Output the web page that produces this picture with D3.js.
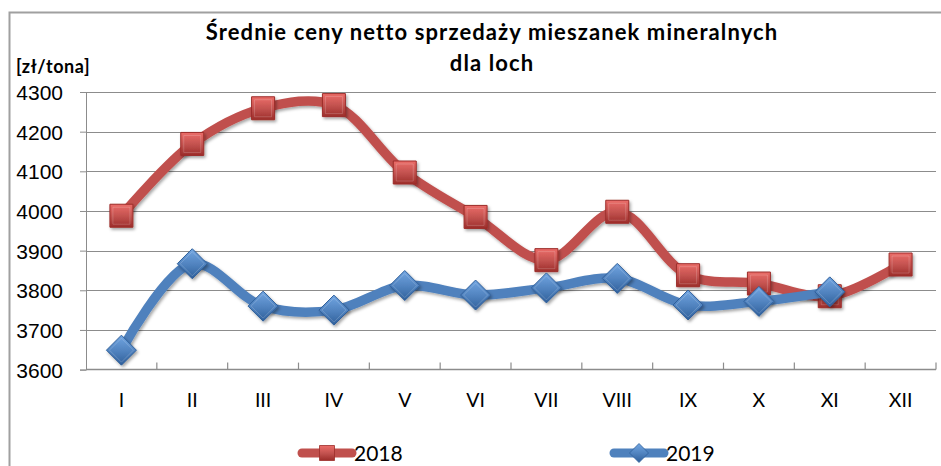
<!DOCTYPE html>
<html>
<head>
<meta charset="utf-8">
<script src="https://cdn.jsdelivr.net/npm/d3@7"></script>
<style>
    body { margin: 0; background: #fff; }
    svg { display: block; font-family: Lato, "Open Sans", sans-serif; }
</style>
</head>
<body>
<div id="chart"></div>
<script>
const months = ['I', 'II', 'III', 'IV', 'V', 'VI', 'VII', 'VIII', 'IX', 'X', 'XI', 'XII'];
const prices2018 = [3988, 4169, 4259, 4267, 4097, 3985, 3876, 3998, 3838, 3817, 3785, 3865];
const prices2019 = [3649, 3867, 3760, 3750, 3812, 3788, 3806, 3830, 3763, 3772, 3796];
const yTicks = [3600, 3700, 3800, 3900, 4000, 4100, 4200, 4300];
const titleLines = ['Średnie ceny netto sprzedaży mieszanek mineralnych', 'dla loch'];
const unitLabel = '[zł/tona]';

const width = 941;
const height = 466;
const plot = { left: 86, right: 936, top: 92, bottom: 369.6 };
const color = {
    red: '#c0504d',
    blue: '#4f81bd',
    grid: '#8c8c8c',
    frame: '#a0a0a0'
};

const series = [
    { name: '2018', values: prices2018, color: color.red, shape: 'square', light: '#ec6d69', dark: '#9c2d2a' },
    { name: '2019', values: prices2019, color: color.blue, shape: 'diamond', light: '#72a6e2', dark: '#2f5f9a' }
];

const svg = d3.select('#chart').append('svg')
    .attr('width', width)
    .attr('height', height);

const defs = svg.append('defs');
const shadow = defs.append('filter').attr('id', 'shadow')
    .attr('x', '-30%').attr('y', '-30%').attr('width', '170%').attr('height', '170%');
shadow.append('feDropShadow')
    .attr('dx', 1.5).attr('dy', 2).attr('stdDeviation', 1.5)
    .attr('flood-color', '#000').attr('flood-opacity', 0.35);

series.forEach(s => {
    const g = defs.append('linearGradient').attr('id', 'grad' + s.name)
        .attr('x1', 0).attr('y1', 0).attr('x2', 0).attr('y2', 1);
    g.append('stop').attr('offset', '0%').attr('stop-color', s.light);
    g.append('stop').attr('offset', '55%').attr('stop-color', s.color);
    g.append('stop').attr('offset', '100%').attr('stop-color', s.dark);
});

// frame (right and bottom edges are cut off in the original)
svg.append('rect')
    .attr('x', 9.5).attr('y', 12.5)
    .attr('width', 1000).attr('height', 1000)
    .style('fill', 'none')
    .style('stroke', color.frame)
    .style('stroke-width', 2);

const x = d3.scaleBand()
    .domain(months)
    .range([plot.left, plot.right])
    .padding(0);

const y = d3.scaleLinear()
    .domain([yTicks[0], yTicks[yTicks.length - 1]])
    .range([plot.bottom, plot.top]);

// gridlines + y labels
const yAxis = svg.append('g')
    .attr('transform', 'translate(' + plot.left + ',0)')
    .call(d3.axisLeft(y).tickValues(yTicks).tickSize(6).tickPadding(17).tickFormat(d3.format('d')));
yAxis.select('.domain').style('stroke', color.grid);
yAxis.selectAll('.tick line').style('stroke', color.grid);
yAxis.selectAll('.tick text')
    .style('font-size', '21px')
    .style('fill', '#000')
    .attr('dy', '0.36em');

svg.append('g')
    .selectAll('line')
    .data(yTicks.slice(1))
    .join('line')
    .attr('x1', plot.left)
    .attr('x2', plot.right)
    .attr('y1', d => Math.round(y(d)) + 0.5)
    .attr('y2', d => Math.round(y(d)) + 0.5)
    .style('stroke', color.grid)
    .style('stroke-width', 1.2);

// x axis
const xAxisG = svg.append('g')
    .attr('transform', 'translate(0,' + plot.bottom + ')');
xAxisG.append('line')
    .attr('x1', plot.left).attr('x2', plot.right)
    .style('stroke', color.grid).style('stroke-width', 1.5);
xAxisG.selectAll('.xtick')
    .data(months.slice(1).concat(['end']))
    .join('line')
    .attr('class', 'xtick')
    .attr('x1', (d, i) => x(months[0]) + x.bandwidth() * (i + 1))
    .attr('x2', (d, i) => x(months[0]) + x.bandwidth() * (i + 1))
    .attr('y1', 0).attr('y2', -7)
    .style('stroke', color.grid).style('stroke-width', 1.2);
xAxisG.selectAll('text')
    .data(months)
    .join('text')
    .attr('x', d => x(d) + x.bandwidth() / 2)
    .attr('y', 37.5)
    .attr('text-anchor', 'middle')
    .style('font-size', '19.5px')
    .style('fill', '#000')
    .text(d => d);

// lines and markers
const line = d3.line()
    .x((d, i) => x(months[i]) + x.bandwidth() / 2)
    .y(d => y(d))
    .curve(d3.curveCatmullRom.alpha(0.5));

function markerPath(shape, size) {
    const h = size / 2;
    if (shape === 'square') {
        return 'M' + (-h) + ',' + (-h) + 'H' + h + 'V' + h + 'H' + (-h) + 'Z';
    }
    return 'M0,' + (-h) + 'L' + h + ',0L0,' + h + 'L' + (-h) + ',0Z';
}

series.forEach(s => {
    const g = svg.append('g');
    g.append('path')
        .datum(s.values)
        .attr('d', line)
        .attr('filter', 'url(#shadow)')
        .style('fill', 'none')
        .style('stroke', s.color)
        .style('stroke-width', 9.5)
        .style('stroke-linecap', 'round')
        .style('stroke-linejoin', 'round');
    const big = s.shape === 'square' ? 23 : 30;
    const marks = g.selectAll('g.marker')
        .data(s.values)
        .join('g')
        .attr('class', 'marker')
        .attr('transform', (d, i) => 'translate(' + (x(months[i]) + x.bandwidth() / 2) + ',' + y(d) + ')');
    marks.append('path')
        .attr('d', markerPath(s.shape, big))
        .attr('filter', 'url(#shadow)')
        .style('fill', 'url(#grad' + s.name + ')')
        .style('stroke', s.dark)
        .style('stroke-width', 1);
    // inner bevel highlight
    marks.append('path')
        .attr('d', markerPath(s.shape, big - 6))
        .style('fill', 'none')
        .style('stroke', '#fff')
        .style('stroke-opacity', 0.18)
        .style('stroke-width', 1);
});

// legend
const legendX = [302, 614];
series.forEach((s, i) => {
    const lg = svg.append('g').attr('transform', 'translate(' + legendX[i] + ',453)');
    lg.append('line')
        .attr('x1', 0).attr('x2', 50)
        .style('stroke', s.color)
        .style('stroke-width', 9)
        .style('stroke-linecap', 'round');
    lg.append('path')
        .attr('transform', 'translate(25,0)')
        .attr('d', markerPath(s.shape, s.shape === 'square' ? 15 : 19))
        .style('fill', 'url(#grad' + s.name + ')')
        .style('stroke', s.dark)
        .style('stroke-width', 0.8);
    lg.append('text')
        .attr('x', 52)
        .attr('y', 7.5)
        .style('font-size', '21px')
        .style('fill', '#000')
        .text(s.name);
});

// titles
svg.append('g')
    .selectAll('text')
    .data(titleLines)
    .join('text')
    .attr('x', 492)
    .attr('y', (d, i) => 39.5 + i * 31.5)
    .attr('text-anchor', 'middle')
    .style('font-size', '22px')
    .style('letter-spacing', '1.1px')
    .style('font-weight', 'bold')
    .style('fill', '#000')
    .text(d => d);

svg.append('text')
    .attr('x', 16)
    .attr('y', 73)
    .style('font-size', '18px')
    .style('letter-spacing', '0.6px')
    .style('font-weight', 'bold')
    .style('fill', '#000')
    .text(unitLabel);
</script>
</body>
</html>
